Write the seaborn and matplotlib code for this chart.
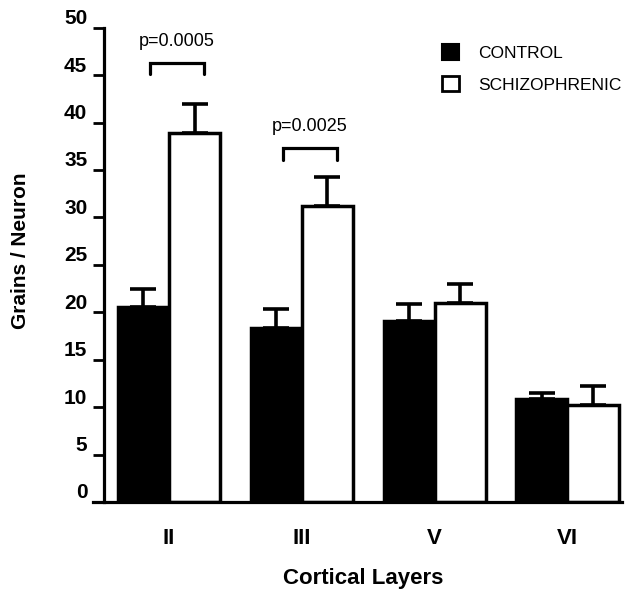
import numpy as np
import pandas as pd
import matplotlib
matplotlib.use("Agg")
import matplotlib.pyplot as plt
import matplotlib.transforms as mtransforms
from matplotlib.patches import Patch
import seaborn as sns

# Data
layers = ["II", "III", "V", "VI"]
groups = ["CONTROL", "SCHIZOPHRENIC"]
control_mean = [20.6, 18.3, 19.1, 10.9]
control_sem = [1.9, 2.0, 1.8, 0.6]
schizo_mean = [38.9, 31.2, 21.0, 10.2]
schizo_sem = [3.1, 3.1, 2.0, 2.0]
p_labels = ["p=0.0005", "p=0.0025"]
bracket_top = [46.3, 37.3]

sns.set_style("ticks", {'axes.edgecolor': 'black', 'text.color': 'black',
                        'xtick.color': 'black', 'ytick.color': 'black',
                        'axes.labelcolor': 'black'})
plt.rcParams['font.family'] = ['Liberation Sans', 'DejaVu Sans']

df = pd.DataFrame({
    'layer': layers * 2,
    'group': [groups[0]] * 4 + [groups[1]] * 4,
    'grains': control_mean + schizo_mean,
})

fig = plt.figure(figsize=(6.34, 5.90), dpi=100)
ax = fig.add_axes([0.164, 0.149, 0.817, 0.804])

sns.barplot(data=df, x='layer', y='grains', hue='group', order=layers,
            hue_order=groups, palette=['black', 'white'], saturation=1,
            edgecolor='black', linewidth=2.5, width=0.77, errorbar=None,
            legend=False, ax=ax)

# one-sided error bars on top of each bar
centers = []
for cont, means, sems in zip(ax.containers, [control_mean, schizo_mean],
                             [control_sem, schizo_sem]):
    xs = [b.get_x() + b.get_width() / 2 for b in cont]
    centers.append(xs)
    ax.errorbar(xs, means, yerr=[np.zeros(len(sems)), sems], fmt='none',
                ecolor='black', elinewidth=2.6, capsize=9.5, capthick=2.6,
                zorder=5)

# significance brackets
for i, (lab, top) in enumerate(zip(p_labels, bracket_top)):
    x0 = centers[0][i] + 0.05
    x1 = centers[1][i] + 0.07
    ax.plot([x0, x0, x1, x1], [top - 1.2, top, top, top - 1.2],
            color='black', lw=2.3, solid_joinstyle='miter', clip_on=False)
    ax.text((x0 + x1) / 2, top + 2.3, lab, ha='center', va='center',
            fontsize=13)

ax.set_ylim(0, 50)
ax.set_xlim(-0.49, 3.41)
ax.set_yticks(np.arange(0, 51, 5))

for side in ['top', 'right']:
    ax.spines[side].set_visible(False)
for side in ['left', 'bottom']:
    ax.spines[side].set_linewidth(2.3)
ax.spines['bottom'].set_bounds(-0.57, 3.41)

ax.tick_params(axis='y', length=8, width=2, pad=4, labelsize=15)
ax.tick_params(axis='x', length=0, pad=19, labelsize=16)
for t in ax.get_yticklabels() + ax.get_xticklabels():
    t.set_fontweight('bold')

# y tick labels sit a little above their ticks in the original
shift = mtransforms.ScaledTranslation(0, 8 / 72, fig.dpi_scale_trans)
for t in ax.get_yticklabels():
    t.set_transform(t.get_transform() + shift)

ax.set_xlabel('Cortical Layers', fontsize=16, fontweight='bold', labelpad=13)
ax.set_ylabel('Grains / Neuron', fontsize=15, fontweight='bold')
ax.yaxis.set_label_coords(-0.143, 0.53)

handles = [Patch(facecolor='black', edgecolor='black', linewidth=1.5),
           Patch(facecolor='white', edgecolor='black', linewidth=2)]
ax.legend(handles, groups, loc='upper left', bbox_to_anchor=(0.652, 0.965),
          frameon=False, fontsize=12.5, handlelength=1.0, handleheight=1.0,
          handletextpad=1.1, labelspacing=0.85, borderpad=0, borderaxespad=0)

fig.savefig('out.png', dpi=100)
